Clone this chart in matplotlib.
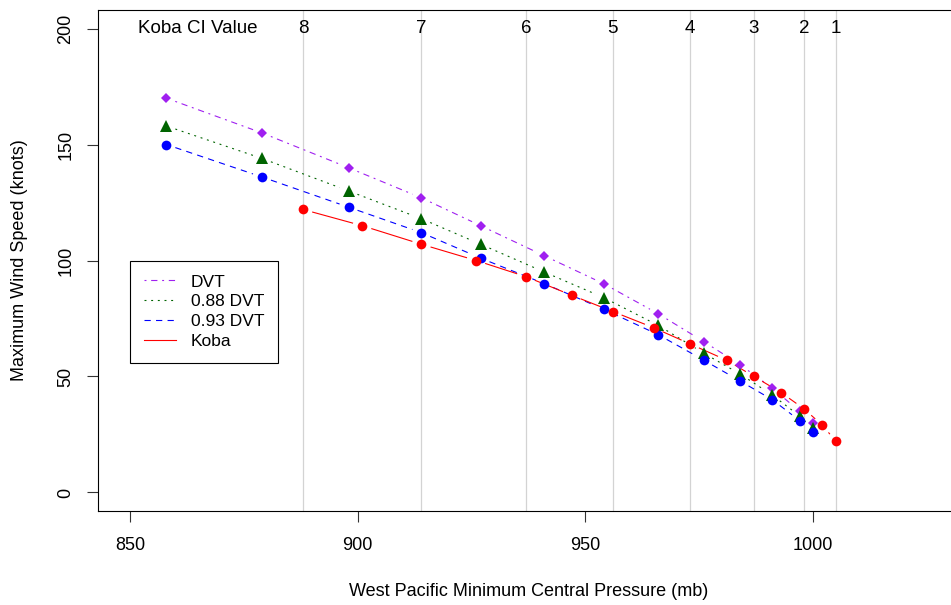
import matplotlib
matplotlib.use("Agg")
import matplotlib.pyplot as plt
import numpy as np
from matplotlib.collections import LineCollection
from matplotlib.lines import Line2D

plt.rcParams['font.family'] = ['Liberation Sans', 'DejaVu Sans']
plt.rcParams['lines.scale_dashes'] = False

# ---- data ----
koba_pressure = [1005, 1002, 998, 993, 987, 981, 973, 965, 956, 947, 937, 926, 914, 901, 888]
koba_wind = [22, 29, 36, 43, 50, 57, 64, 71, 78, 85, 93, 100, 107, 115, 122]

dvt_pressure = [858, 879, 898, 914, 927, 941, 954, 966, 976, 984, 991, 997, 1000]
dvt_wind = [170, 155, 140, 127, 115, 102, 90, 77, 65, 55, 45, 35, 30]
dvt088_wind = [158, 144, 130, 118, 107, 95, 84, 72, 60, 51, 42, 33, 28]
dvt093_wind = [150, 136, 123, 112, 101, 90, 79, 68, 57, 48, 40, 31, 26]

ci_values = [8, 7, 6, 5, 4, 3, 2, 1]
ci_pressure = [888, 914, 937, 956, 973, 987, 998, 1005]

xticks = [850, 900, 950, 1000]
yticks = [0, 50, 100, 150, 200]

W, H = 951, 605
fig = plt.figure(figsize=(W / 100, H / 100), dpi=100)
L, R, T, B = 98, 959, 10, 511
ax = fig.add_axes([L / W, (H - B) / H, (R - L) / W, (B - T) / H])
ax.set_xlim(843, 1032)
ax.set_ylim(-8, 208)

for s in ax.spines.values():
    s.set_linewidth(0.8)
    s.set_color('black')
ax.spines['right'].set_visible(False)

ax.set_xticks(xticks)
ax.set_yticks(yticks)
ax.tick_params(axis='both', length=8, width=0.8, labelsize=13, color='#333333')
ax.tick_params(axis='x', pad=11)
ax.tick_params(axis='y', pad=9)
for lab in ax.get_yticklabels():
    lab.set_rotation(90)
    lab.set_va('center')

ax.set_xlabel('West Pacific Minimum Central Pressure (mb)', fontsize=13)
ax.xaxis.label.set_va('center')
ax.xaxis.set_label_coords(0.5, -(592 - B) / (B - T))
ax.set_ylabel('Maximum Wind Speed (knots)', fontsize=13)
ax.yaxis.label.set_va('center')
ax.yaxis.set_label_coords(-(L - 20) / (R - L), 0.5)

# Koba CI vertical lines and labels
for p, c in zip(ci_pressure, ci_values):
    ax.axvline(p, color='#d3d3d3', lw=0.9, zorder=1)
    ax.text(p, 200, str(c), ha='center', va='center', fontsize=13.5, zorder=2)
ax.text(865, 200, 'Koba CI Value', ha='center', va='center', fontsize=13.5, zorder=2)

fig.canvas.draw()
GAP = 9.5  # pixels


def gapped(xs, ys, color, dashes, z):
    pts = ax.transData.transform(np.column_stack([xs, ys]))
    inv = ax.transData.inverted()
    segs = []
    for p0, p1 in zip(pts[:-1], pts[1:]):
        d = p1 - p0
        ln = np.hypot(*d)
        if ln <= 2 * GAP:
            continue
        u = d / ln
        q = inv.transform(np.array([p0 + u * GAP, p1 - u * GAP]))
        segs.append(q)
    ls = 'solid' if dashes is None else (0, dashes)
    lc = LineCollection(segs, colors=color, linewidths=0.8, linestyles=ls, zorder=z)
    ax.add_collection(lc)


purple = '#A020F0'
green = '#006400'
blue = '#0000FF'
red = '#FF0000'

d_purple = (1.4, 3.4, 4.5, 3.4)
d_green = (1.4, 3.4)
d_blue = (4.5, 3.8)

gapped(dvt_pressure, dvt_wind, purple, d_purple, 3)
ax.plot(dvt_pressure, dvt_wind, 'D', color=purple, ms=4.8, mew=0, zorder=4)
gapped(dvt_pressure, dvt088_wind, green, d_green, 3)
ax.plot(dvt_pressure, dvt088_wind, '^', color=green, ms=8, mew=0, zorder=4)
gapped(dvt_pressure, dvt093_wind, blue, d_blue, 3)
ax.plot(dvt_pressure, dvt093_wind, 'o', color=blue, ms=7, mew=0, zorder=4)
gapped(koba_pressure, koba_wind, red, None, 3)
ax.plot(koba_pressure, koba_wind, 'o', color=red, ms=7, mew=0, zorder=5)

handles = [
    Line2D([], [], color=purple, lw=0.8, dashes=d_purple),
    Line2D([], [], color=green, lw=0.8, dashes=d_green),
    Line2D([], [], color=blue, lw=0.8, dashes=d_blue),
    Line2D([], [], color=red, lw=0.8),
]
labels = ['DVT', '0.88 DVT', '0.93 DVT', 'Koba']
leg = ax.legend(handles, labels, loc='upper left', bbox_to_anchor=(850, 100),
                bbox_transform=ax.transData, borderaxespad=0, fontsize=12.5,
                fancybox=False, framealpha=1, edgecolor='black',
                handlelength=1.85, handletextpad=0.85, borderpad=0.8,
                labelspacing=0.27)
leg.get_frame().set_linewidth(0.8)

fig.savefig('out.png', dpi=100)
